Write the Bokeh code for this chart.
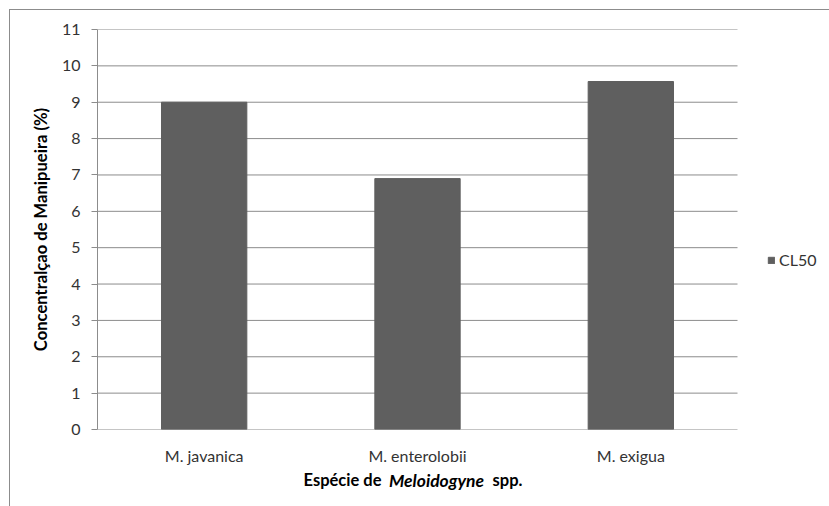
from bokeh.plotting import figure
from bokeh.models import (Range1d, FixedTicker, Legend, LegendItem,
                          ColumnDataSource, LinearAxis)
from bokeh.embed import file_html
from bokeh.resources import INLINE

categories = ["M. javanica", "M. enterolobii", "M. exigua"]
cl50 = [9.0, 6.9, 9.57]
y_ticks = list(range(0, 12))
series_name = "CL50"
y_title = "Concentralçao de Manipueira (%)"
x_title_bold = ["Espécie de", "spp."]
x_title_italic = ["Meloidogyne"]

FONT = "Lato"
W, H = 829, 506
L, T, B = 97, 29, 77
PLOT_RIGHT = 737          # pixel where the category axis ends
ymax = 11.0
GRAY = "#8c8c8c"

ncat = len(categories)
xpos = [i + 0.5 for i in range(ncat)]
src = ColumnDataSource(dict(x=xpos, cat=categories, val=cl50))
grid_src = ColumnDataSource(dict(y=y_ticks, x0=[0] * len(y_ticks), x1=[ncat] * len(y_ticks)))

# frame spans to the right edge so the legend (outside the category area) is not clipped
x_end = ncat * (W - L) / (PLOT_RIGHT - L)
p = figure(width=W, height=H, x_range=Range1d(0, x_end),
           y_range=Range1d(0, ymax), output_backend="svg", toolbar_location=None,
           min_border_left=L, min_border_right=0, min_border_top=T, min_border_bottom=B)
p.outline_line_color = None
p.background_fill_color = "white"
p.border_fill_alpha = 0
p.background_fill_alpha = 0
# outer chart border (cropped at right/bottom like the reference)
p.styles = {
    "background": ("linear-gradient(%s,%s) 9px 9px / 1px 100%% no-repeat, "
                   "linear-gradient(%s,%s) 9px 9px / 100%% 1px no-repeat, white")
                  % (GRAY, GRAY, GRAY, GRAY),
}

# horizontal gridlines (incl. the category axis line at 0) limited to the category area
p.segment(x0="x0", x1="x1", y0="y", y1="y", source=grid_src, line_color=GRAY, line_width=1)

bars = p.vbar(x="x", top="val", width=0.4, source=src, fill_color="#5f5f5f",
              line_color="#5f5f5f")

p.xgrid.grid_line_color = None
p.ygrid.grid_line_color = None
p.yaxis.ticker = FixedTicker(ticks=y_ticks)
p.xaxis.ticker = FixedTicker(ticks=xpos)
p.xaxis.major_label_overrides = {x: c for x, c in zip(xpos, categories)}

for ax in (p.xaxis[0], p.yaxis[0]):
    ax.axis_line_color = GRAY
    ax.major_tick_line_color = GRAY
    ax.minor_tick_line_color = None
    ax.major_label_text_font = FONT
    ax.major_label_text_color = "#333333"
    ax.major_label_text_font_size = "16px"
p.yaxis.major_tick_out = 6
p.yaxis.major_tick_in = 0
p.yaxis.major_label_standoff = 11
p.yaxis.axis_label = y_title
p.yaxis.axis_label_text_font = FONT
p.yaxis.axis_label_text_font_style = "bold"
p.yaxis.axis_label_text_font_size = "16.6px"
p.yaxis.axis_label_text_color = "black"
p.yaxis.axis_label_standoff = 8

p.xaxis.axis_line_color = None
p.xaxis.major_tick_out = 0
p.xaxis.major_tick_in = 0
p.xaxis.major_label_standoff = 16

# pixel-based helper range for the mixed-style x-axis title
p.extra_x_ranges = {"px": Range1d(L, W)}
bold_pos = [342, 507]
ital_pos = [436]

def title_axis(ticks, labels, style, standoff, size):
    ax = LinearAxis(x_range_name="px", ticker=FixedTicker(ticks=ticks),
                    major_label_overrides={t: s for t, s in zip(ticks, labels)},
                    axis_line_color=None, major_tick_line_color=None,
                    minor_tick_line_color=None, major_tick_out=0, major_tick_in=0,
                    major_label_standoff=standoff, major_label_text_font=FONT,
                    major_label_text_font_style=style, major_label_text_font_size=size,
                    major_label_text_color="black")
    p.add_layout(ax, "below")
    return ax

title_axis(bold_pos, x_title_bold, "bold", 2, "16.5px")
title_axis(ital_pos, x_title_italic, "bold italic", -23, "17.5px")

legend = Legend(items=[LegendItem(label=series_name, renderers=[bars])],
                location=(767 - L, 160), glyph_width=8, glyph_height=8,
                label_height=14, label_standoff=4, padding=0, margin=0,
                border_line_color=None, background_fill_alpha=0,
                label_text_font=FONT, label_text_font_size="16px",
                label_text_color="#333333")
p.add_layout(legend, "center")

open("out.html", "w").write(file_html(p, INLINE))
